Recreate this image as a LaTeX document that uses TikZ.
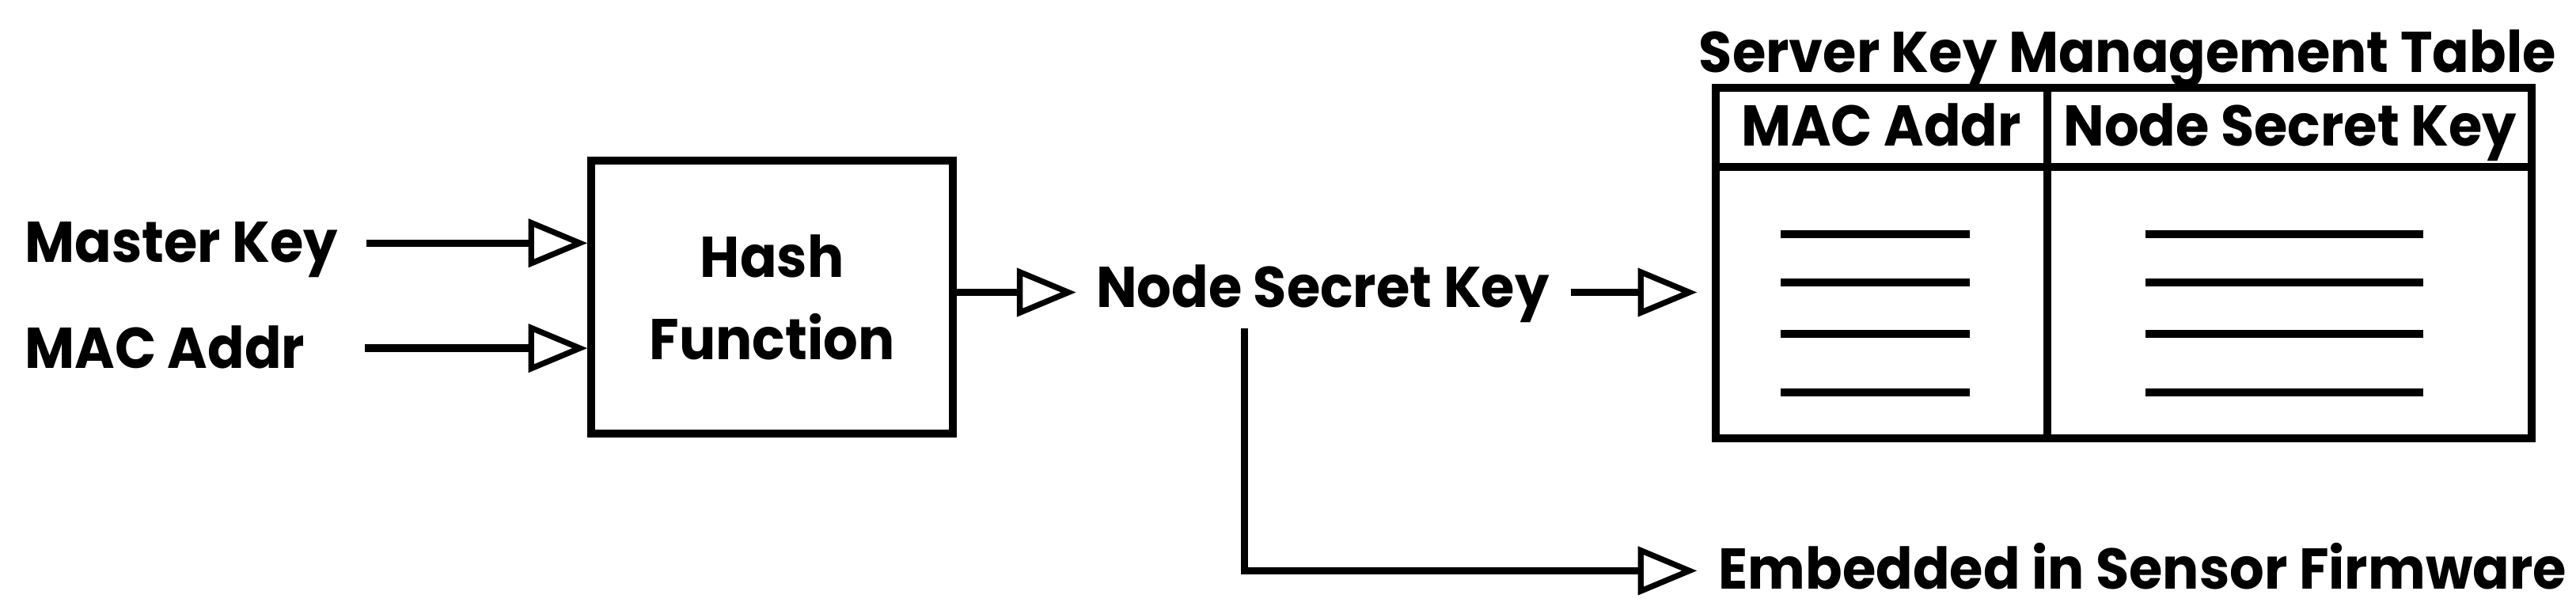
\documentclass[tikz,border=0pt]{standalone}
\usepackage{fontspec}
\setmainfont{Poppins}[FakeStretch=0.945]
\usetikzlibrary{arrows.meta}
\begin{document}
\begin{tikzpicture}[x=1pt,y=-1pt,
  lbl/.style={font=\fontsize{35}{42}\selectfont\bfseries, inner sep=0pt},
  arr/.style={line width=4.5pt, -{Triangle[open, length=36pt, width=29pt, line width=3.5pt]}},
  box/.style={draw, line width=4.8pt},
  row/.style={line width=4.8pt}]
\useasboundingbox[fill=white] (0,0) rectangle (1568,371.4);
% inputs
\node[lbl, anchor=base west] (mk) at (15,159.5) {Master Key};
\node[lbl, anchor=base west] (mac) at (15,224.3) {MAC Addr};
\coordinate (in1) at (223,148);
\coordinate (in2) at (222,212);
% hash box
\node[box, minimum width=220pt, minimum height=166pt, align=center, inner sep=0pt,
      font=\fontsize{35}{50.4}\selectfont\bfseries] (hash) at (470,181) {Hash\\Function};
\draw[arr] (in1) -- (in1 -| hash.west);
\draw[arr] (in2) -- (in2 -| hash.west);
% node secret key
\node[lbl, anchor=base west] (nsk) at (667,187) {Node Secret Key};
\coordinate (nskw) at (655,178);
\draw[arr] (hash.east |- nskw) -- (nskw);
% table
\coordinate (tl) at (1044.5,53.5);
\coordinate (br) at (1541,267);
\draw[box] (tl) rectangle (br);
\coordinate (hdr) at (1044.5,101.5);
\coordinate (div) at (1246,53.5);
\draw[box] (hdr) -- (hdr -| br);
\draw[box] (div) -- (div |- br);
\node[lbl, anchor=base] (title) at (1295,44) {Server Key Management Table};
\node[lbl, anchor=base] (h1) at (1145,89) {MAC Addr};
\node[lbl, anchor=base] (h2) at (1394,89) {Node Secret Key};
\foreach \y [count=\i] in {142.5,172,203.5,239}{
  \coordinate (a\i) at (1084,\y);
  \coordinate (b\i) at (1199,\y);
  \coordinate (c\i) at (1306,\y);
  \coordinate (d\i) at (1475,\y);
  \draw[row] (a\i) -- (b\i);
  \draw[row] (c\i) -- (d\i);
}
\coordinate (nske) at (956,178);
\coordinate (tin) at (1033,178);
\draw[arr] (nske) -- (tin);
% embedded
\node[lbl, anchor=base west] (efw) at (1046,358.5) {Embedded in Sensor Firmware};
\coordinate (drop) at (757.5,200);
\coordinate (tip2) at (1033,347.5);
\draw[arr] (drop) -- (drop |- tip2) -- (tip2);
\end{tikzpicture}
\end{document}
